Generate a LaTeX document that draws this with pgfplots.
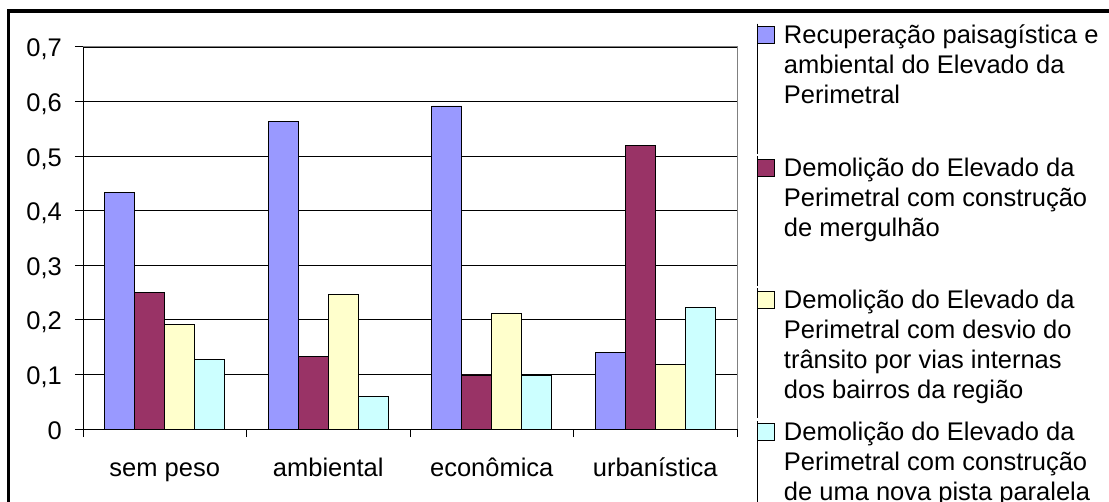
\documentclass[border=0pt]{standalone}
\usepackage{fontspec}
\setmainfont{Liberation Sans}
\usepackage{pgfplots}
\pgfplotsset{compat=1.18}
\definecolor{cA}{HTML}{9999FF}
\definecolor{cB}{HTML}{993366}
\definecolor{cC}{HTML}{FFFFCC}
\definecolor{cD}{HTML}{CCFFFF}
\pgfplotsset{sq/.style={draw=black, line width=0.8bp,
  legend image code/.code={\draw[##1,/tikz/.cd,line width=0.8bp] (0bp,0bp) rectangle (17bp,17bp);
    \path (0bp,20bp) -- (0bp,-#1);}}}
\newcommand{\lent}[1]{\parbox[t]{330bp}{\raggedright\fontsize{25.5bp}{30bp}\selectfont\rule{0pt}{20bp}#1}}
\begin{document}
\fontsize{25.5bp}{30bp}\selectfont
\begin{tikzpicture}
\useasboundingbox (0,0) rectangle (1109bp,502bp);
\fill[white] (0,0) rectangle (1109bp,502bp);
\draw[line width=3.3bp] (8.3bp,-20bp) -- (8.3bp,491bp) -- (1130bp,491bp);
\begin{axis}[
  at={(83bp,73bp)}, anchor=south west, scale only axis,
  width=654bp, height=382bp,
  xmin=-0.5, xmax=3.5, ymin=0, ymax=0.7,
  ybar=0pt, bar width=30bp,
  axis x line*=bottom, axis y line*=left,
  axis line style={black, line width=1bp},
  tick align=outside, major tick length=8bp,
  xtick={-0.5,0.5,1.5,2.5,3.5}, xticklabels={},
  extra x ticks={0,1,2,3},
  extra x tick labels={sem peso, ambiental, econômica, urbanística},
  extra x tick style={major tick length=0pt, tick style={draw=none},
    xticklabel style={anchor=base, yshift=-47bp}},
  ytick={0,0.1,0.2,0.3,0.4,0.5,0.6,0.7},
  yticklabels={{0},{0,1},{0,2},{0,3},{0,4},{0,5},{0,6},{0,7}},
  tick style={black, line width=1bp},
  ymajorgrids, major grid style={black, line width=0.8bp},
  yticklabel style={anchor=base east, inner sep=0pt, xshift=-13bp, yshift=-10bp},
  legend style={at={(1.030,1.0662)}, anchor=north west, draw=none, fill=none,
    inner sep=0pt, outer sep=0pt, row sep=0pt, column sep=7.5bp,
    cells={anchor=base west, inner sep=0pt}},
  after end axis/.code={\draw[gray, line width=1bp] (rel axis cs:0,1) -- (rel axis cs:1,1) -- (rel axis cs:1,0);
    \draw[black, line width=1bp] (rel axis cs:0,1) -- (rel axis cs:0,0) -- (rel axis cs:1,0);},
]
\addplot[sq=110bp, fill=cA] coordinates {(0,0.433) (1,0.563) (2,0.592) (3,0.141)};
\addlegendentry{\lent{Recuperação paisagística e\\ambiental do Elevado da\\Perimetral}}
\addplot[sq=110bp, fill=cB] coordinates {(0,0.250) (1,0.133) (2,0.099) (3,0.519)};
\addlegendentry{\lent{Demolição do Elevado da\\Perimetral com construção\\de mergulhão}}
\addplot[sq=110bp, fill=cC] coordinates {(0,0.191) (1,0.246) (2,0.212) (3,0.119)};
\addlegendentry{\lent{Demolição do Elevado da\\Perimetral com desvio do\\trânsito por vias internas\\dos bairros da região}}
\addplot[sq=70bp, fill=cD] coordinates {(0,0.127) (1,0.059) (2,0.098) (3,0.223)};
\addlegendentry{\lent{Demolição do Elevado da\\Perimetral com construção\\de uma nova pista paralela}}
\end{axis}
\end{tikzpicture}
\end{document}
